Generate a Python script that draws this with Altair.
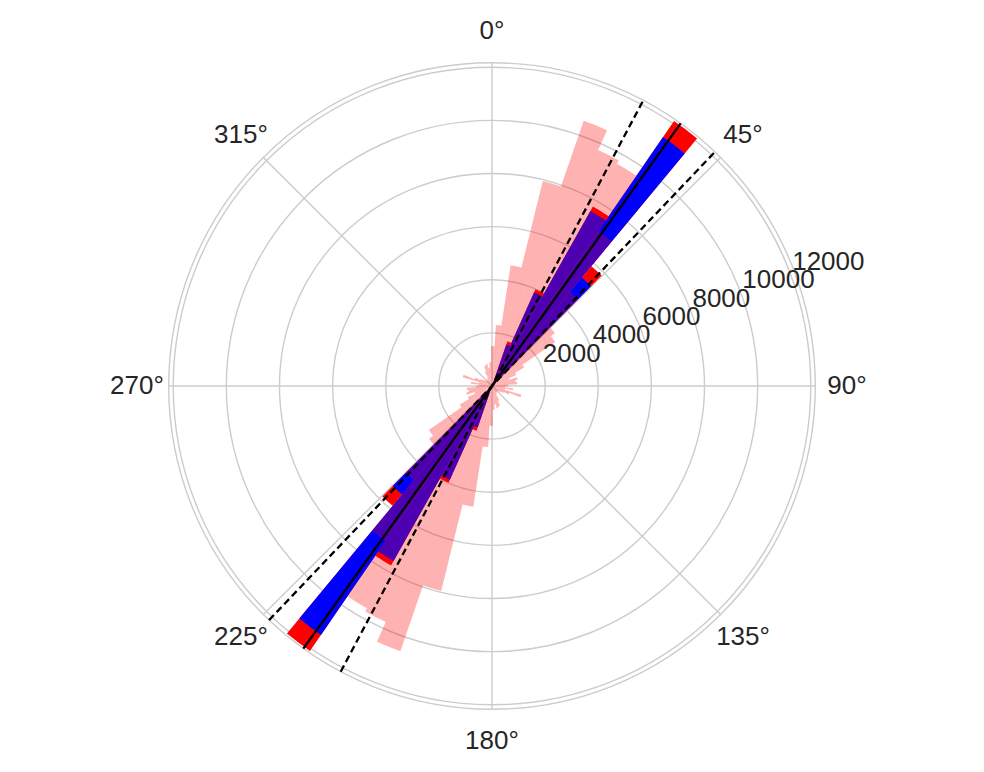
import math
import altair as alt
import pandas as pd

# ---------------- data ----------------
N_BINS = 70                      # angular bins over the full circle
BIN_WIDTH = 360 / N_BINS         # degrees
BIN_START = -1.5                 # first bin edge (degrees, clockwise from north)

# light histogram, bins 0..34 (the other half is the same, 180 deg away)
PINK_HALF = [1500, 2300, 4600, 7950, 10560, 9740, 9600, 7070, 4600, 3100,
             2900, 1400, 1000, 700, 1000, 900, 950, 600, 500, 800,
             500, 1150, 700, 500, 400, 300, 300, 250, 300, 350,
             600, 800, 850, 700, 900]

# blue / red bars (bin index, value), mirrored 180 deg
BAR_BINS = [4, 5, 6, 7, 8]
BLUE_VALUES = [1650, 3870, 7560, 11370, 5300]
RED_VALUES = [1780, 3990, 7750, 12100, 5860]

MEAN_DIR = 35.7                  # solid line
CONF_DIRS = [27.9, 43.6]         # dashed lines

R_TICKS = [2000, 4000, 6000, 8000, 10000, 12000]
R_LABELS = ["2000", "4000", "6000", "8000", "10000", "12000"]
THETA_TICKS = [0, 45, 90, 135, 180, 225, 270, 315]
THETA_LABELS = ["0°", "45°", "90°", "135°", "180°", "225°", "270°", "315°"]
RMAX = 12170
RLABEL_DIR = 69.8

# ---------------- layout ----------------
W, H = 968, 756
R_PX = 323.3
PX = R_PX / RMAX
LABEL_R = 355 / PX
FONT = "Liberation Sans"
TXT = "#262626"
GRID = "#cccccc"

# ---------------- tables ----------------
pink_rows, bar_rows = [], []
for j in range(N_BINS):
    t1 = BIN_START + j * BIN_WIDTH
    pink_rows.append({"t1": t1, "t2": t1 + BIN_WIDTH, "r": PINK_HALF[j % 35]})
for k, b in enumerate(BAR_BINS):
    for half in (0, 35):
        t1 = BIN_START + (b + half) * BIN_WIDTH
        bar_rows.append({"t1": t1, "t2": t1 + BIN_WIDTH,
                         "blue": BLUE_VALUES[k], "red": RED_VALUES[k]})
pink_df = pd.DataFrame(pink_rows)
bar_df = pd.DataFrame(bar_rows)
circ_df = pd.DataFrame({"t1": 0, "t2": 360, "r": R_TICKS + [RMAX]})
spoke_df = pd.DataFrame({"ang": THETA_TICKS, "rr": RMAX, "z": 0})
solid_df = pd.DataFrame({"ang": [MEAN_DIR], "rr": RMAX})
dash_df = pd.DataFrame({"ang": CONF_DIRS, "rr": RMAX})
tlab_df = pd.DataFrame({"ang": THETA_TICKS, "lab": THETA_LABELS, "rr": LABEL_R})
rlab_df = pd.DataFrame({"ang": RLABEL_DIR, "lab": R_LABELS, "rr": R_TICKS})

# ---------------- scales ----------------
TS = alt.Scale(domain=[0, 360], range=[0, 2 * math.pi], zero=False, nice=False)
RS = alt.Scale(type="linear", domain=[0, RMAX], range=[0, R_PX], zero=True, nice=False)
XS = alt.Scale(domain=[-(W / 2) / PX, (W / 2) / PX], zero=False, nice=False)
YS = alt.Scale(domain=[-(H / 2) / PX, (H / 2) / PX], zero=False, nice=False)

def arcs(df, rfield, **mk):
    return alt.Chart(df).mark_arc(**mk).encode(
        theta=alt.Theta("t1:Q", scale=TS, stack=False),
        theta2="t2:Q",
        radius=alt.Radius(f"{rfield}:Q", scale=RS),
    )

sx = "datum.rr * sin(datum.ang * PI / 180)"
sy = "datum.rr * cos(datum.ang * PI / 180)"

circles = arcs(circ_df, "r", fillOpacity=0, stroke=GRID, strokeWidth=1.4)

spokes = alt.Chart(spoke_df).transform_calculate(px=sx, py=sy).mark_rule(
    color=GRID, strokeWidth=1.4
).encode(
    x=alt.X("z:Q", scale=XS, axis=None), y=alt.Y("z:Q", scale=YS, axis=None),
    x2="px:Q", y2="py:Q",
)

red_bars = arcs(bar_df, "red", color="#ff0000")
blue_bars = arcs(bar_df, "blue", color="#0000ff")
pink_bars = arcs(pink_df, "r", color="#ff0000", opacity=0.3)

def through(df, **mk):
    return alt.Chart(df).transform_calculate(
        px=sx, py=sy, nx="-" + sx, ny="-" + sy
    ).mark_rule(color="black", **mk).encode(
        x=alt.X("nx:Q", scale=XS, axis=None), y=alt.Y("ny:Q", scale=YS, axis=None),
        x2="px:Q", y2="py:Q",
    )

solid = through(solid_df, strokeWidth=2.3)
dashed = through(dash_df, strokeWidth=2.3, strokeDash=[7, 4])

tlabels = alt.Chart(tlab_df).transform_calculate(px=sx, py=sy).mark_text(
    font=FONT, fontSize=26, color=TXT, align="center", baseline="middle"
).encode(
    x=alt.X("px:Q", scale=XS, axis=None), y=alt.Y("py:Q", scale=YS, axis=None),
    text="lab:N",
)

rlabels = alt.Chart(rlab_df).transform_calculate(px=sx, py=sy).mark_text(
    font=FONT, fontSize=26, color=TXT, align="left", baseline="bottom", dx=1, dy=-1
).encode(
    x=alt.X("px:Q", scale=XS, axis=None), y=alt.Y("py:Q", scale=YS, axis=None),
    text="lab:N",
)

chart = alt.layer(
    circles, spokes, red_bars, blue_bars, pink_bars, solid, dashed, tlabels, rlabels
).properties(width=W, height=H, padding=0, background="white").configure_view(strokeWidth=0)

chart.save("out.html", embed_options={"renderer": "svg", "actions": False})
